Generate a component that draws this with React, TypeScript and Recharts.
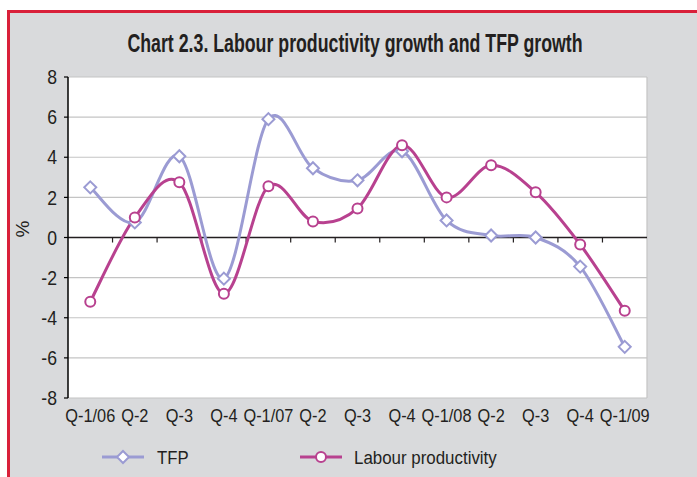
import { LineChart, Line, XAxis, YAxis, CartesianGrid, ReferenceLine, Legend } from 'recharts'

const CATEGORIES = ['Q-1/06', 'Q-2', 'Q-3', 'Q-4', 'Q-1/07', 'Q-2', 'Q-3', 'Q-4', 'Q-1/08', 'Q-2', 'Q-3', 'Q-4', 'Q-1/09']
const TFP = [2.5, 0.75, 4.05, -2.05, 5.9, 3.45, 2.85, 4.3, 0.85, 0.1, 0.0, -1.45, -5.45]
const LABOUR = [-3.2, 1.0, 2.75, -2.8, 2.55, 0.8, 1.45, 4.6, 2.0, 3.6, 2.25, -0.35, -3.65]
const Y_TICKS = [-8, -6, -4, -2, 0, 2, 4, 6, 8]

const TFP_COLOR = '#9b9bd3'
const LP_COLOR = '#b8418f'
const FONT = "'Liberation Sans', Arial, sans-serif"
const TEXT = '#231f20'

const data = CATEGORIES.map((c, i) => ({ idx: i, cat: c, tfp: TFP[i], lp: LABOUR[i] }))
const boundaries = CATEGORIES.slice(1).map((_, i) => i + 0.5)

// excel-like smoothing (catmull-rom through the points)
function smooth(context: any) {
  let pts: number[][] = []
  return {
    areaStart() {},
    areaEnd() {},
    lineStart() { pts = [] },
    point(x: number, y: number) { pts.push([+x, +y]) },
    lineEnd() {
      if (!pts.length) return
      context.moveTo(pts[0][0], pts[0][1])
      for (let i = 0; i < pts.length - 1; i++) {
        const p0 = pts[i - 1] || pts[i]
        const p1 = pts[i]
        const p2 = pts[i + 1]
        const p3 = pts[i + 2] || pts[i + 1]
        context.bezierCurveTo(
          p1[0] + (p2[0] - p0[0]) / 6, p1[1] + (p2[1] - p0[1]) / 6,
          p2[0] - (p3[0] - p1[0]) / 6, p2[1] - (p3[1] - p1[1]) / 6,
          p2[0], p2[1],
        )
      }
    },
  }
}

const Diamond = ({ cx, cy }: any) => (
  <path d={`M${cx},${cy - 6}L${cx + 6},${cy}L${cx},${cy + 6}L${cx - 6},${cy}Z`} fill="#fff" stroke={TFP_COLOR} strokeWidth={2} />
)

const XTick = ({ x, y, payload }: any) => (
  <g transform={`translate(${x},${y})`}>
    <text transform="scale(0.86,1)" textAnchor="middle" dy="0.72em" fill={TEXT} fontSize={19} fontFamily={FONT}>
      {CATEGORIES[payload.value]}
    </text>
  </g>
)

const YTick = ({ x, y, payload }: any) => (
  <g transform={`translate(${x},${y})`}>
    <text transform="scale(0.88,1)" textAnchor="end" dy="0.36em" fill={TEXT} fontSize={20} fontFamily={FONT}>
      {payload.value}
    </text>
  </g>
)

const LegendContent = () => (
  <svg width={560} height={24} style={{ display: 'block' }}>
    <line x1={1} y1={12} x2={43} y2={12} stroke={TFP_COLOR} strokeWidth={3} />
    <path d="M22,6L28,12L22,18L16,12Z" fill="#fff" stroke={TFP_COLOR} strokeWidth={2} />
    <text transform="translate(56,19) scale(0.88,1)" fill={TEXT} fontSize={19} fontFamily={FONT}>TFP</text>
    <line x1={199} y1={12} x2={241} y2={12} stroke={LP_COLOR} strokeWidth={3} />
    <circle cx={220} cy={12} r={5} fill="#fff" stroke={LP_COLOR} strokeWidth={2} />
    <text transform="translate(253,19) scale(0.89,1)" fill={TEXT} fontSize={19} fontFamily={FONT}>Labour productivity</text>
  </svg>
)

export default function App() {
  return (
    <div style={{ position: 'absolute', left: 0, top: 0, width: 697, height: 477, background: '#fff', overflow: 'hidden' }}>
      <div style={{
        position: 'absolute', left: 7, top: 10, right: 0, bottom: 0,
        background: '#d9dadc', borderLeft: '3px solid #d9203a', borderTop: '3px solid #d9203a',
      }} />
      <svg style={{ position: 'absolute', left: 0, top: 0 }} width={697} height={70}>
        <text transform="translate(355,52) scale(0.71,1)" textAnchor="middle"
          fontFamily={FONT} fontWeight="bold" fontSize={25} fill={TEXT}>
          Chart 2.3. Labour productivity growth and TFP growth
        </text>
      </svg>
      <div style={{ position: 'absolute', left: 0, top: 0 }}>
        <LineChart width={697} height={477} data={data} margin={{ top: 77, right: 50, bottom: 24, left: 10 }}>
          <CartesianGrid vertical={false} horizontalValues={Y_TICKS} stroke="#c4c4c4" strokeWidth={1.2} fill="#fff" fillOpacity={1} />
          <XAxis
            dataKey="idx"
            type="number"
            domain={[-0.5, CATEGORIES.length - 0.5]}
            ticks={CATEGORIES.map((_, i) => i)}
            interval={0}
            axisLine={false}
            tickLine={false}
            tickSize={0}
            tickMargin={10}
            height={31}
            tick={<XTick />}
          />
          <YAxis
            domain={[-8, 8]}
            ticks={Y_TICKS}
            interval={0}
            width={58}
            axisLine={{ stroke: '#000', strokeWidth: 1.5 }}
            tickLine={{ stroke: '#000', strokeWidth: 1.2 }}
            tickSize={4}
            tickMargin={7}
            tick={<YTick />}
            label={{ value: '%', angle: -90, position: 'insideLeft', offset: 12, fill: TEXT, fontSize: 19, fontFamily: FONT }}
          />
          <ReferenceLine x={CATEGORIES.length - 0.5} stroke="#c4c4c4" strokeWidth={1.2} />
          <ReferenceLine y={0} stroke="#231f20" strokeWidth={1.5} />
          {boundaries.map(b => (
            <ReferenceLine key={b} segment={[{ x: b, y: 0 }, { x: b, y: -0.25 }]} stroke="#231f20" strokeWidth={1.2} />
          ))}
          <Legend
            verticalAlign="bottom"
            content={<LegendContent />}
            wrapperStyle={{ position: 'absolute', left: 101, top: 445, width: 560 }}
          />
          <Line
            dataKey="tfp"
            type={smooth as any}
            stroke={TFP_COLOR}
            strokeWidth={3}
            dot={<Diamond />}
            activeDot={false}
            isAnimationActive={false}
          />
          <Line
            dataKey="lp"
            type={smooth as any}
            stroke={LP_COLOR}
            strokeWidth={3}
            dot={{ r: 5, fill: '#fff', stroke: LP_COLOR, strokeWidth: 2 }}
            activeDot={false}
            isAnimationActive={false}
          />
        </LineChart>
      </div>
    </div>
  )
}
